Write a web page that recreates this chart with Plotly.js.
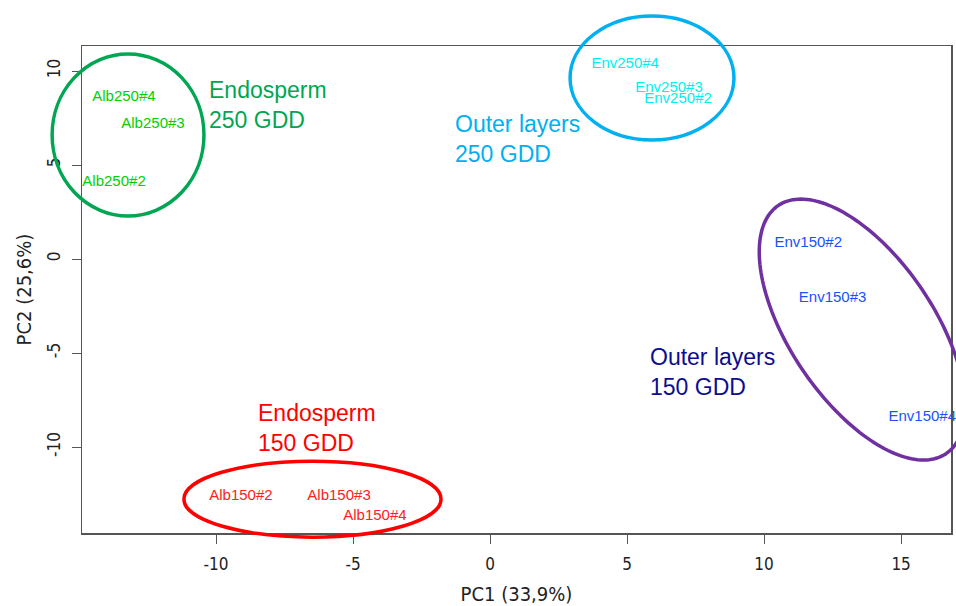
<!DOCTYPE html>
<html>
<head>
<meta charset="utf-8">
<script src="https://cdn.plot.ly/plotly-3.0.1.min.js"></script>
<style>html,body{margin:0;padding:0;background:#fff;}#chart{width:956px;height:606px;}</style>
</head>
<body>
<div id="chart"></div>
<script>
// Sample labels (PCA scores)
const alb250Names = ["Alb250#4", "Alb250#3", "Alb250#2"];
const alb250X = [-13.36, -12.30, -13.72];
const alb250Y = [8.62, 7.18, 4.10];

const env250Names = ["Env250#4", "Env250#3", "Env250#2"];
const env250X = [4.93, 6.53, 6.86];
const env250Y = [10.37, 9.10, 8.51];

const env150Names = ["Env150#2", "Env150#3", "Env150#4"];
const env150X = [11.61, 12.50, 15.77];
const env150Y = [0.85, -2.07, -8.40];

const alb150Names = ["Alb150#2", "Alb150#3", "Alb150#4"];
const alb150X = [-9.09, -5.51, -4.20];
const alb150Y = [-12.61, -12.61, -13.67];

// Group labels
const groupText = ["Endosperm<br>250 GDD", "Outer layers<br>250 GDD", "Outer layers<br>150 GDD", "Endosperm<br>150 GDD"];
const groupX = [-10.22, -1.24, 5.88, -8.43];
const groupY = [8.19, 6.36, -6.01, -8.96];
const groupColor = ["#00A651", "#00B0F0", "#0D0D8F", "#FF0000"];

// Axis-aligned ellipses: centre and radii (data units)
const ellCx = [-13.21, 5.91, -6.48];
const ellCy = [6.60, 9.63, -12.77];
const ellRx = [2.77, 2.99, 4.69];
const ellRy = [4.31, 3.30, 2.02];
const ellColor = ["#00A651", "#00B0F0", "#FF0000"];

// Tilted ellipse (Outer layers 150 GDD): centre + conjugate semi-axes (data units)
const tiltCenter = [13.58, -3.75];
const tiltU = [3.06, -6.60];
const tiltV = [-2.18, -2.14];
const tiltColor = "#7030A0";

const xTicks = [-10, -5, 0, 5, 10, 15];
const yTicks = [-10, -5, 0, 5, 10];

const labelFont = "Liberation Sans, Arial, sans-serif";
const axisFont = "Liberation Sans Narrow, DejaVu Sans Condensed, Arial Narrow, sans-serif";

function textTrace(names, xs, ys, color) {
  return {
    type: "scatter", mode: "text", x: xs, y: ys, text: names,
    textposition: "middle center", cliponaxis: false, hoverinfo: "skip",
    textfont: {family: labelFont, size: 15, color: color}, showlegend: false
  };
}

const traces = [
  textTrace(alb250Names, alb250X, alb250Y, "#00D000"),
  textTrace(env250Names, env250X, env250Y, "#00F0F0"),
  textTrace(env150Names, env150X, env150Y, "#1A50FF"),
  textTrace(alb150Names, alb150X, alb150Y, "#FF2020")
];

const shapes = [];
for (let i = 0; i < ellCx.length; i++) {
  shapes.push({
    type: "circle", xref: "x", yref: "y",
    x0: ellCx[i] - ellRx[i], x1: ellCx[i] + ellRx[i],
    y0: ellCy[i] - ellRy[i], y1: ellCy[i] + ellRy[i],
    line: {color: ellColor[i], width: 3.5}, layer: "above"
  });
}
let p = "";
const nSeg = 180;
for (let k = 0; k <= nSeg; k++) {
  const t = 2 * Math.PI * k / nSeg;
  const x = tiltCenter[0] + tiltU[0] * Math.cos(t) + tiltV[0] * Math.sin(t);
  const y = tiltCenter[1] + tiltU[1] * Math.cos(t) + tiltV[1] * Math.sin(t);
  p += (k === 0 ? "M" : "L") + x.toFixed(4) + "," + y.toFixed(4);
}
p += "Z";
shapes.push({type: "path", xref: "x", yref: "y", path: p, line: {color: tiltColor, width: 3.5}, layer: "above"});

const annotations = groupText.map((t, i) => ({
  x: groupX[i], y: groupY[i], xref: "x", yref: "y", text: t, showarrow: false,
  xanchor: "left", yanchor: "middle", align: "left", xshift: -3,
  font: {family: labelFont, size: 23, color: groupColor[i]}
}));

const layout = {
  width: 956, height: 606,
  margin: {l: 82, r: 5, t: 46, b: 73},
  paper_bgcolor: "#fff", plot_bgcolor: "#fff",
  showlegend: false,
  xaxis: {
    range: [-14.89, 16.82], tickvals: xTicks, ticktext: xTicks.map(String),
    showgrid: false, zeroline: false, showline: true, mirror: true,
    linecolor: "#555", linewidth: 1.5, ticks: "outside", ticklen: 9, tickcolor: "#555",
    ticklabelstandoff: 6,
    tickfont: {family: axisFont, size: 17, color: "#222"},
    title: {text: "PC1 (33,9%)", font: {family: axisFont, size: 20, color: "#222"}, standoff: 20}
  },
  yaxis: {
    range: [-14.57, 11.33], tickvals: yTicks, ticktext: yTicks.map(String), tickangle: -90,
    showgrid: false, zeroline: false, showline: true, mirror: true,
    linecolor: "#555", linewidth: 1.5, ticks: "outside", ticklen: 9, tickcolor: "#555",
    ticklabelstandoff: 5,
    tickfont: {family: axisFont, size: 17, color: "#222"},
    title: {text: "PC2 (25,6%)", font: {family: axisFont, size: 20, color: "#222"}, standoff: 6}
  },
  shapes: shapes,
  annotations: annotations
};

function unclip() {
  document.querySelectorAll(".shapelayer, .shapelayer *, .layer-above, .layer-below").forEach(function (el) {
    el.removeAttribute("clip-path");
    if (el.style) el.style.clipPath = "";
  });
}

Plotly.newPlot("chart", traces, layout, {displayModeBar: false, staticPlot: true}).then(function () {
  unclip();
  setTimeout(unclip, 0);
});
</script>
</body>
</html>
